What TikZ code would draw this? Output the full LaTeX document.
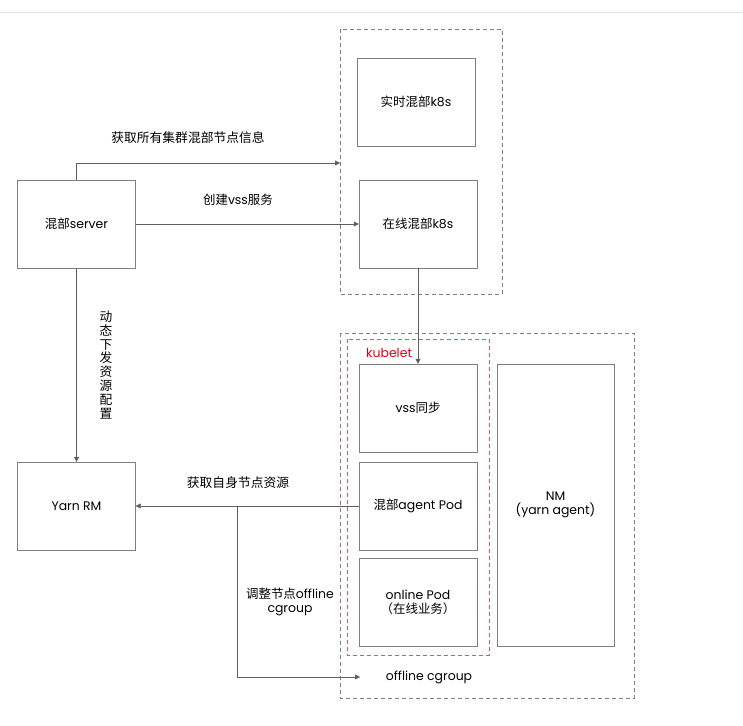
\documentclass[tikz,border=0pt]{standalone}
\usepackage{fontspec}
\setmainfont{Poppins}
\newfontfamily\cjk{Noto Sans CJK SC}
\usetikzlibrary{arrows.meta}
\definecolor{boxgray}{HTML}{7F7F7F}
\definecolor{linegray}{HTML}{5F5F5F}
\definecolor{kubered}{HTML}{E05566}
\definecolor{textred}{HTML}{E00010}

\begin{document}
\begin{tikzpicture}[x=1bp,y=-1bp,
  every node/.style={font=\fontsize{12.5}{14.3}\selectfont,inner sep=1pt},
  cjklabel/.style={font=\cjk\fontsize{12.8}{14}\selectfont},
  box/.style={draw=boxgray,minimum width=118bp,minimum height=88bp,align=center},
  arr/.style={draw=linegray,-{Triangle[length=5bp,width=5bp]}},
  group/.style={draw=boxgray,dashed,dash pattern=on 4bp off 3bp}]
  \useasboundingbox (0,0) rectangle (743,726);
  \draw[black!10] (0,12) -- (743,12);

  % boxes
  \node[box] (server) at (76.5,224) {{\cjk 混部}server};
  \node[box] (yarn) at (76.5,506) {Yarn RM};
  \node[box] (rtk8s) at (416,102) {{\cjk 实时混部}k8s};
  \node[box] (onk8s) at (418,224) {{\cjk 在线混部}k8s};
  \node[box] (vss) at (418,408) {vss{\cjk 同步}};
  \node[box] (agent) at (418,506) {{\cjk 混部}agent Pod};
  \node[box] (online) at (418,602) {online Pod\\{\cjk （在线业务）}};
  \node[box,minimum width=117bp,minimum height=282bp] (nm) at (555.5,505) {NM\\(yarn agent)};

  % groups
  \draw[group] (340,29) rectangle (502,294);
  \draw[group] (340,333) rectangle (634,698);
  \draw[group,draw=kubered] (347,339) rectangle (489,655);
  \node[text=textred,anchor=west] (kubelet) at (365,353) {kubelet};
  \node (cgroup) at (429,677) {offline cgroup};

  \coordinate (k8sin) at (340,163);
  \coordinate (split) at (237,506);
  \coordinate (cgin) at (360,677);

  % connectors
  \draw[arr] (server.north) |- (k8sin);
  \draw[arr] (server.east) -- (onk8s.west);
  \draw[arr] (onk8s.south) -- (vss.north);
  \draw[arr] (server.south) -- (yarn.north);
  \draw[arr] (agent.west) -- (yarn.east);
  \draw[arr] (split) |- (cgin);

  % labels
  \node[cjklabel] (l1) at (188,138) {获取所有集群混部节点信息};
  \node (l2) at (238,200) {{\cjk 创建}vss{\cjk 服务}};
  \node[cjklabel,align=center] (l3) at (106,365)
    {动\\态\\下\\发\\资\\源\\配\\置};
  \node[cjklabel] (l4) at (238,483) {获取自身节点资源};
  \node[align=center] (l5) at (290,602) {{\cjk 调整节点}offline\\cgroup};
\end{tikzpicture}
\end{document}
